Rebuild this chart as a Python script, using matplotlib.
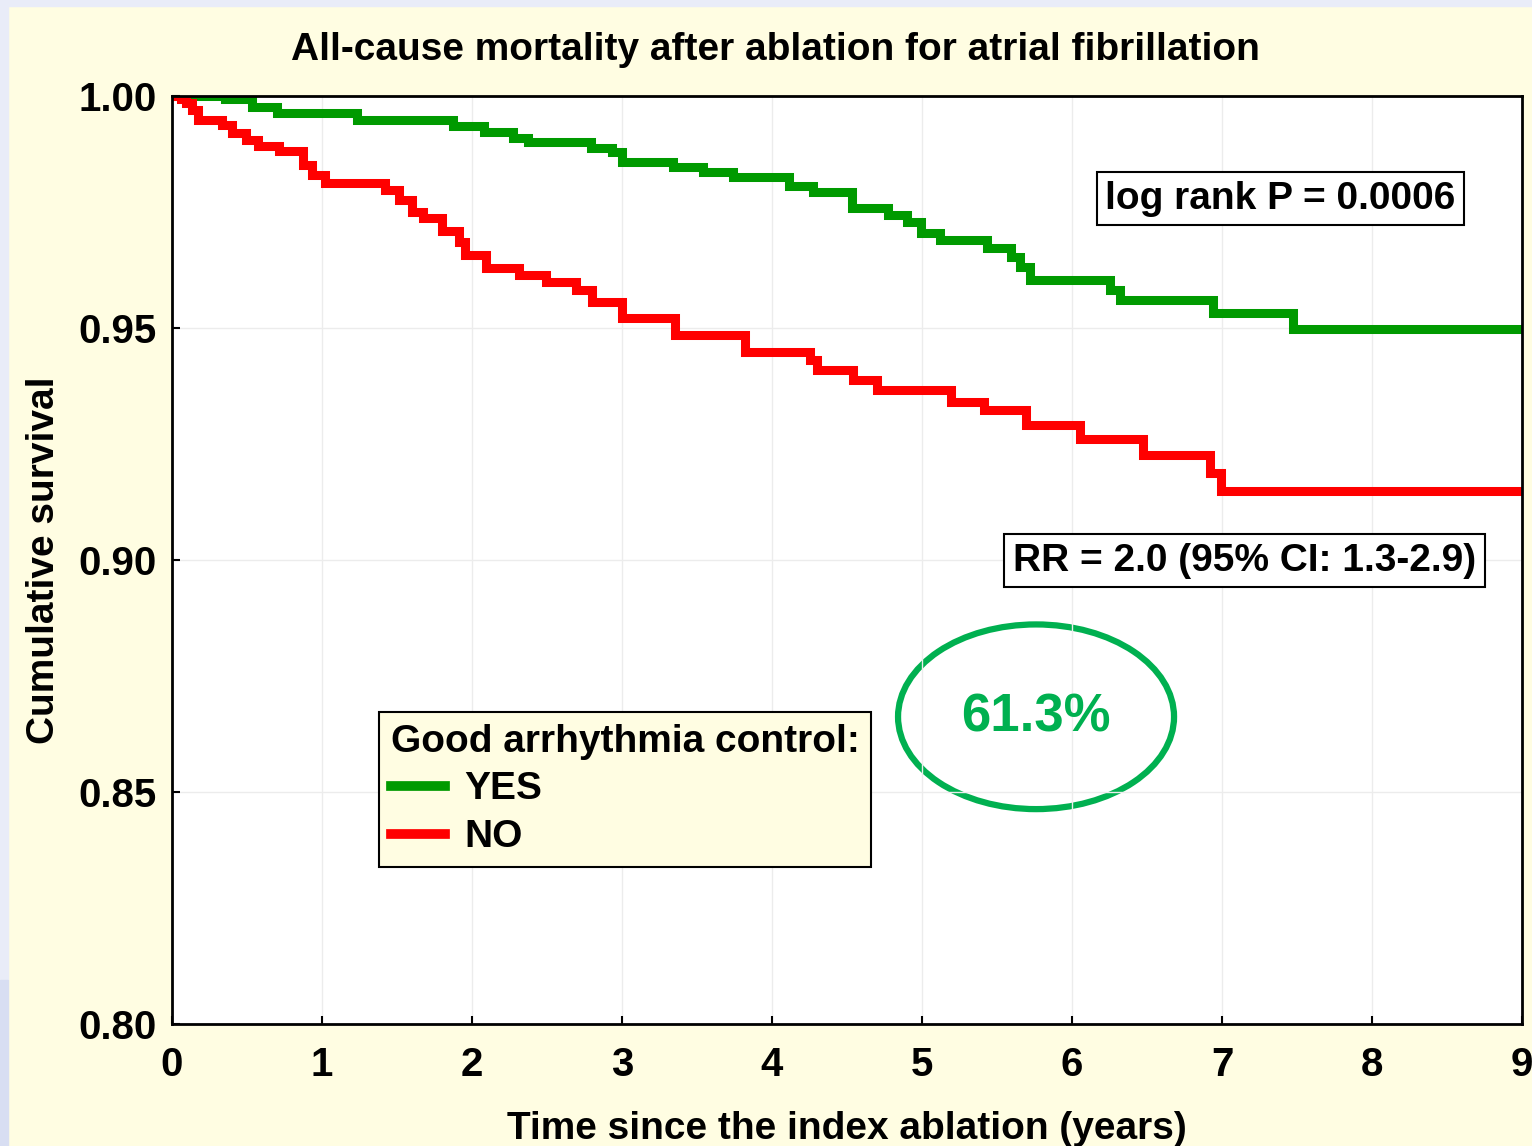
import matplotlib
matplotlib.use('Agg')
import matplotlib.pyplot as plt
from matplotlib.patches import Ellipse, Rectangle
import numpy as np

plt.rcParams['font.family'] = ['Liberation Sans', 'DejaVu Sans']
plt.rcParams['font.weight'] = 'bold'

# ── Data ─────────────────────────────────────────────────────────────────────
yes_t = [0.00, 0.35, 0.53, 0.70, 1.23, 1.87, 2.08, 2.27, 2.37, 2.79, 2.93, 3.00,
         3.34, 3.54, 3.74, 4.11, 4.27, 4.53, 4.77, 4.90, 4.99, 5.12, 5.43, 5.59,
         5.65, 5.72, 6.25, 6.32, 6.94, 7.47, 9.00]
yes_s = [1.0000, 0.9993, 0.9976, 0.9963, 0.9948, 0.9935, 0.9922, 0.9909, 0.9901,
         0.9888, 0.9879, 0.9858, 0.9847, 0.9836, 0.9826, 0.9806, 0.9793, 0.9759,
         0.9744, 0.9728, 0.9705, 0.9690, 0.9672, 0.9653, 0.9631, 0.9603, 0.9582,
         0.9560, 0.9532, 0.9498, 0.9498]

no_t = [0.00, 0.06, 0.09, 0.13, 0.17, 0.33, 0.40, 0.49, 0.57, 0.71, 0.87, 0.93,
        1.02, 1.42, 1.51, 1.60, 1.67, 1.80, 1.91, 1.95, 2.09, 2.31, 2.49, 2.69,
        2.80, 3.00, 3.35, 3.82, 4.25, 4.30, 4.54, 4.70, 5.19, 5.41, 5.69, 6.05,
        6.47, 6.92, 6.99, 9.00]
no_s = [1.0000, 0.9993, 0.9985, 0.9970, 0.9948, 0.9938, 0.9920, 0.9905, 0.9892,
        0.9881, 0.9851, 0.9830, 0.9812, 0.9797, 0.9776, 0.9750, 0.9737, 0.9709,
        0.9685, 0.9657, 0.9629, 0.9614, 0.9599, 0.9582, 0.9556, 0.9522, 0.9485,
        0.9448, 0.9431, 0.9409, 0.9388, 0.9366, 0.9341, 0.9323, 0.9291, 0.9261,
        0.9226, 0.9188, 0.9149, 0.9149]

x_ticks = [0, 1, 2, 3, 4, 5, 6, 7, 8, 9]
y_ticks = [0.80, 0.85, 0.90, 0.95, 1.00]

GREEN = '#009a00'
RED = '#ff0000'
MARK = '#00b050'
CREAM = '#fffde2'

# ── Figure ────────────────────────────────────────────────────────────────────
fig = plt.figure(figsize=(15.32, 11.46), dpi=100, facecolor=CREAM)
# slide edges
fig.patches.append(Rectangle((0, 0.995), 1, 0.005, transform=fig.transFigure,
                             color='#e9ecf8', zorder=0))
fig.patches.append(Rectangle((0, 0.145), 0.0055, 0.855, transform=fig.transFigure,
                             color='#e9ecf8', zorder=0))
fig.patches.append(Rectangle((0, 0), 0.0055, 0.145, transform=fig.transFigure,
                             color='#d8def2', zorder=0))

ax = fig.add_axes([0.1123, 0.1065, 0.8812, 0.8098])
ax.set_facecolor('white')

ax.step(yes_t, yes_s, where='post', color=GREEN, lw=6.5, solid_joinstyle='miter',
        label='YES')
ax.step(no_t, no_s, where='post', color=RED, lw=6.5, solid_joinstyle='miter',
        label='NO')

ax.set_xlim(0, 9)
ax.set_ylim(0.80, 1.00)
ax.set_xticks(x_ticks)
ax.set_yticks(y_ticks)
ax.set_yticklabels([f'{v:.2f}' for v in y_ticks])
ax.tick_params(direction='in', length=6, width=1.5, labelsize=29)
ax.tick_params(axis='x', pad=16)
ax.tick_params(axis='y', pad=11)
ax.grid(True, color='#ececec', lw=1)
for sp in ax.spines.values():
    sp.set_linewidth(2)

ax.set_xlabel('Time since the index ablation (years)', fontsize=28,
              fontweight='bold', labelpad=19)
ax.set_ylabel('Cumulative survival', fontsize=28, fontweight='bold', labelpad=12)
fig.text(0.506, 1 - 50 / 1146,
         'All-cause mortality after ablation for atrial fibrillation',
         fontsize=28, fontweight='bold', ha='center', va='center')

box = dict(boxstyle='square,pad=0.22', fc='white', ec='black', lw=1.5)
ax.text(7.39, 0.9778, 'log rank P = 0.0006', fontsize=28, ha='center',
        va='center', bbox=box)
ax.text(7.15, 0.8998, 'RR = 2.0 (95% CI: 1.3-2.9)', fontsize=28, ha='center',
        va='center', bbox=box)

ax.add_patch(Ellipse((5.76, 0.8662), 1.84, 0.0398, fill=False, ec=MARK, lw=4.5))
ax.text(5.76, 0.8660, '61.3%', fontsize=38, color=MARK, ha='center', va='center')

leg = ax.legend(title='Good arrhythmia control:', loc='upper left',
                bbox_to_anchor=(0.1533, 0.336), borderaxespad=0,
                fontsize=28, title_fontsize=28,
                frameon=True, fancybox=False, handlelength=1.4, handletextpad=0.5,
                borderpad=0.3, labelspacing=0.3)
leg.get_frame().set_facecolor(CREAM)
leg.get_frame().set_edgecolor('black')
leg.get_frame().set_linewidth(1.5)
leg.get_frame().set_alpha(1)
leg._legend_box.align = 'left'
leg.get_title().set_fontweight('bold')
for h in leg.get_lines():
    h.set_linewidth(7)

plt.savefig('out.png', dpi=100, facecolor=CREAM)
